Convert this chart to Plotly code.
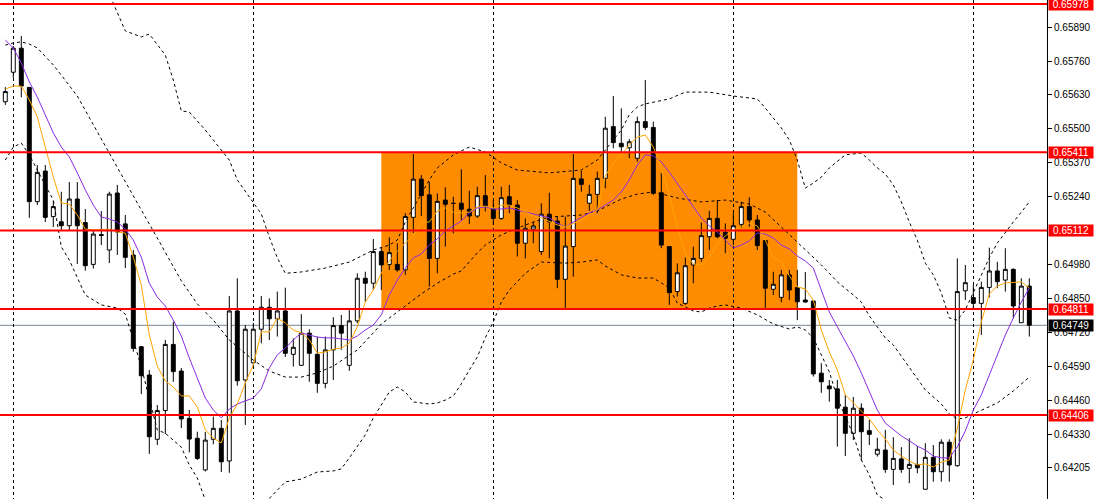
import plotly.graph_objects as go

# ---------------- candle data (price) ----------------
open_ = [0.65604, 0.65717, 0.65809, 0.65659, 0.65222, 0.65339, 0.65165, 0.65145, 0.65130, 0.65232,
         0.65142, 0.64982, 0.65096, 0.65037, 0.65255, 0.65137, 0.65018, 0.64667, 0.64559, 0.64313,
         0.64423, 0.64676, 0.64574, 0.64393, 0.64317, 0.64196, 0.64313, 0.64355, 0.64230, 0.64804,
         0.64540, 0.64606, 0.64734, 0.64818, 0.64774, 0.64804, 0.64638, 0.64596, 0.64719, 0.64638,
         0.64527, 0.64655, 0.64748, 0.64596, 0.64766, 0.64929, 0.64910, 0.65031, 0.64982, 0.64982,
         0.64961, 0.65162, 0.65308, 0.65248, 0.65005, 0.65228, 0.65216, 0.65216, 0.65193, 0.65167,
         0.65245, 0.65193, 0.65158, 0.65241, 0.65209, 0.65063, 0.65117, 0.65031, 0.65174, 0.65148,
         0.64925, 0.65050, 0.65309, 0.65216, 0.65250, 0.65311, 0.65509, 0.65445, 0.65428, 0.65388,
         0.65528, 0.65506, 0.65256, 0.65050, 0.64878, 0.64833, 0.64980, 0.65005, 0.65088, 0.65158,
         0.65105, 0.65078, 0.65135, 0.65203, 0.65152, 0.65073, 0.64887, 0.64856, 0.64942, 0.64893,
         0.64846, 0.64842, 0.64566, 0.64517, 0.64506, 0.64436, 0.64336, 0.64432, 0.64346, 0.64256,
         0.64272, 0.64198, 0.64238, 0.64202, 0.64217, 0.64122, 0.64244, 0.64189, 0.64302, 0.64212,
         0.64881, 0.64855, 0.64833, 0.64894, 0.64957, 0.64922, 0.64963, 0.64759, 0.64899]

high_ = [0.65660, 0.65817, 0.65856, 0.65660, 0.65362, 0.65362, 0.65225, 0.65260, 0.65297, 0.65297,
         0.65194, 0.65110, 0.65186, 0.65260, 0.65286, 0.65171, 0.65037, 0.64670, 0.64578, 0.64444,
         0.64693, 0.64763, 0.64586, 0.64425, 0.64342, 0.64341, 0.64400, 0.64387, 0.64861, 0.64929,
         0.64750, 0.64758, 0.64861, 0.64852, 0.64878, 0.64893, 0.64699, 0.64792, 0.64734, 0.64706,
         0.64706, 0.64780, 0.64789, 0.64814, 0.64948, 0.64954, 0.65079, 0.65049, 0.65086, 0.65063,
         0.65178, 0.65404, 0.65324, 0.65298, 0.65254, 0.65277, 0.65241, 0.65346, 0.65264, 0.65279,
         0.65324, 0.65228, 0.65279, 0.65286, 0.65228, 0.65158, 0.65145, 0.65216, 0.65256, 0.65165,
         0.65165, 0.65404, 0.65340, 0.65286, 0.65337, 0.65547, 0.65626, 0.65579, 0.65461, 0.65547,
         0.65687, 0.65528, 0.65331, 0.65050, 0.64986, 0.65008, 0.65050, 0.65142, 0.65187, 0.65228,
         0.65139, 0.65178, 0.65222, 0.65239, 0.65171, 0.65073, 0.64954, 0.64961, 0.64961, 0.64961,
         0.64953, 0.64842, 0.64604, 0.64540, 0.64540, 0.64483, 0.64475, 0.64451, 0.64387, 0.64319,
         0.64349, 0.64321, 0.64283, 0.64317, 0.64287, 0.64298, 0.64291, 0.64313, 0.64313, 0.65005,
         0.64980, 0.64903, 0.64916, 0.65046, 0.64992, 0.65044, 0.64967, 0.64929, 0.64929]

low_ = [0.65592, 0.65695, 0.65621, 0.65160, 0.65209, 0.65144, 0.65125, 0.65114, 0.65114, 0.64984,
        0.64958, 0.64966, 0.65056, 0.64987, 0.65018, 0.64968, 0.64648, 0.64486, 0.64257, 0.64291,
        0.64333, 0.64533, 0.64356, 0.64263, 0.64234, 0.64190, 0.64294, 0.64188, 0.64185, 0.64518,
        0.64368, 0.64586, 0.64680, 0.64693, 0.64706, 0.64628, 0.64591, 0.64594, 0.64533, 0.64491,
        0.64508, 0.64540, 0.64655, 0.64575, 0.64757, 0.64839, 0.64884, 0.64884, 0.64961, 0.64954,
        0.64942, 0.65102, 0.65167, 0.64897, 0.64948, 0.65050, 0.65101, 0.65152, 0.65137, 0.65160,
        0.65184, 0.65133, 0.65152, 0.65178, 0.65012, 0.65005, 0.65063, 0.65018, 0.65005, 0.64891,
        0.64808, 0.64935, 0.65260, 0.65187, 0.65178, 0.65273, 0.65426, 0.65413, 0.65388, 0.65375,
        0.65496, 0.65248, 0.65044, 0.64827, 0.64859, 0.64827, 0.64910, 0.64992, 0.65037, 0.65082,
        0.65025, 0.65056, 0.65121, 0.65126, 0.65037, 0.64814, 0.64865, 0.64837, 0.64846, 0.64769,
        0.64836, 0.64553, 0.64491, 0.64457, 0.64285, 0.64249, 0.64310, 0.64234, 0.64291, 0.64247,
        0.64185, 0.64138, 0.64185, 0.64145, 0.64183, 0.64120, 0.64151, 0.64151, 0.64151, 0.64208,
        0.64846, 0.64808, 0.64712, 0.64856, 0.64891, 0.64878, 0.64776, 0.64759, 0.64706]

close_ = [0.65643, 0.65809, 0.65664, 0.65222, 0.65334, 0.65162, 0.65203, 0.65130, 0.65232, 0.65130,
          0.64977, 0.65098, 0.65093, 0.65251, 0.65106, 0.65009, 0.64661, 0.64556, 0.64323, 0.64423,
          0.64676, 0.64572, 0.64391, 0.64314, 0.64240, 0.64310, 0.64355, 0.64227, 0.64804, 0.64537,
          0.64734, 0.64734, 0.64818, 0.64774, 0.64804, 0.64642, 0.64665, 0.64719, 0.64642, 0.64527,
          0.64655, 0.64748, 0.64719, 0.64766, 0.64929, 0.64910, 0.65031, 0.64980, 0.65027, 0.64961,
          0.65165, 0.65308, 0.65245, 0.65005, 0.65223, 0.65212, 0.65215, 0.65193, 0.65167, 0.65245,
          0.65203, 0.65158, 0.65237, 0.65209, 0.65063, 0.65120, 0.65129, 0.65174, 0.65145, 0.64925,
          0.65052, 0.65311, 0.65288, 0.65250, 0.65311, 0.65503, 0.65448, 0.65432, 0.65451, 0.65528,
          0.65506, 0.65254, 0.65056, 0.64874, 0.64950, 0.64977, 0.65005, 0.65092, 0.65158, 0.65088,
          0.65082, 0.65130, 0.65203, 0.65152, 0.65054, 0.64891, 0.64906, 0.64942, 0.64884, 0.64839,
          0.64838, 0.64563, 0.64533, 0.64506, 0.64432, 0.64336, 0.64432, 0.64342, 0.64332, 0.64275,
          0.64198, 0.64240, 0.64198, 0.64217, 0.64204, 0.64244, 0.64189, 0.64302, 0.64215, 0.64878,
          0.64912, 0.64833, 0.64894, 0.64957, 0.64916, 0.64963, 0.64823, 0.64899, 0.64749]

bars = list(range(len(close_)))

# ---------------- moving averages (read per bar) ----------------
ma_fast = [0.65653, 0.65664, 0.65664, 0.65611, 0.65546, 0.65431, 0.65316, 0.65217, 0.65213, 0.65171,
           0.65117, 0.65114, 0.65116, 0.65117, 0.65106, 0.65102, 0.65010, 0.64903, 0.64712, 0.64593,
           0.64536, 0.64513, 0.64479, 0.64479, 0.64437, 0.64349, 0.64318, 0.64299, 0.64395, 0.64448,
           0.64528, 0.64597, 0.64724, 0.64724, 0.64777, 0.64758, 0.64731, 0.64720, 0.64693, 0.64643,
           0.64647, 0.64658, 0.64662, 0.64681, 0.64743, 0.64838, 0.64884, 0.64949, 0.64995, 0.65033,
           0.65064, 0.65091, 0.65144, 0.65144, 0.65186, 0.65198, 0.65182, 0.65179, 0.65182, 0.65202,
           0.65205, 0.65198, 0.65209, 0.65209, 0.65198, 0.65182, 0.65167, 0.65160, 0.65148, 0.65133,
           0.65125, 0.65137, 0.65152, 0.65171, 0.65190, 0.65320, 0.65370, 0.65401, 0.65439, 0.65469,
           0.65477, 0.65431, 0.65351, 0.65248, 0.65125, 0.65022, 0.64984, 0.64980, 0.65007, 0.65060,
           0.65091, 0.65114, 0.65125, 0.65140, 0.65129, 0.65075, 0.65007, 0.64991, 0.64938, 0.64896,
           0.64888, 0.64846, 0.64731, 0.64647, 0.64578, 0.64483, 0.64452, 0.64425, 0.64391, 0.64349,
           0.64314, 0.64272, 0.64249, 0.64230, 0.64215, 0.64219, 0.64207, 0.64226, 0.64234, 0.64356,
           0.64502, 0.64616, 0.64762, 0.64869, 0.64899, 0.64911, 0.64913, 0.64915, 0.64892]

ma_slow = [0.65840, 0.65810, 0.65752, 0.65680, 0.65622, 0.65550, 0.65485, 0.65431, 0.65393, 0.65332,
           0.65267, 0.65209, 0.65163, 0.65156, 0.65144, 0.65117, 0.65075, 0.65010, 0.64910, 0.64857,
           0.64823, 0.64769, 0.64708, 0.64624, 0.64548, 0.64471, 0.64425, 0.64395, 0.64429, 0.64448,
           0.64460, 0.64471, 0.64506, 0.64586, 0.64636, 0.64662, 0.64693, 0.64720, 0.64712, 0.64704,
           0.64701, 0.64701, 0.64697, 0.64693, 0.64708, 0.64731, 0.64750, 0.64789, 0.64865, 0.64922,
           0.64968, 0.65007, 0.65022, 0.65056, 0.65079, 0.65110, 0.65129, 0.65148, 0.65179, 0.65198,
           0.65202, 0.65194, 0.65194, 0.65198, 0.65190, 0.65182, 0.65175, 0.65167, 0.65160, 0.65140,
           0.65125, 0.65144, 0.65160, 0.65179, 0.65190, 0.65209, 0.65228, 0.65259, 0.65305, 0.65362,
           0.65401, 0.65397, 0.65374, 0.65335, 0.65293, 0.65248, 0.65202, 0.65160, 0.65129, 0.65106,
           0.65075, 0.65045, 0.65056, 0.65072, 0.65102, 0.65098, 0.65083, 0.65056, 0.65041, 0.65014,
           0.64995, 0.64968, 0.64884, 0.64800, 0.64743, 0.64689, 0.64632, 0.64567, 0.64498, 0.64425,
           0.64375, 0.64349, 0.64326, 0.64307, 0.64287, 0.64272, 0.64249, 0.64242, 0.64242, 0.64284,
           0.64345, 0.64425, 0.64483, 0.64559, 0.64636, 0.64712, 0.64777, 0.64838, 0.64892]

# ---------------- Bollinger bands (sampled bars) ----------------
bb_up_bar = [0, 6, 10, 12, 13, 15, 17, 18, 20, 21, 22, 23, 25, 26, 28, 29, 31, 32, 33, 34, 35, 37, 40,
             43, 46, 48, 49, 50, 51, 53, 54, 56, 57, 58, 60, 62, 64, 68, 72, 74, 76, 77, 78, 79, 80,
             83, 85, 88, 91, 94, 95, 97, 98, 99, 100, 101, 102, 103, 105, 107, 108, 109, 110, 111,
             112, 113, 114, 115, 116, 117, 118, 119, 120, 121, 122, 123, 124, 125, 126, 127, 128]
bb_up = [0.66261, 0.66269, 0.66223, 0.66097, 0.66016, 0.65875, 0.65852, 0.65863, 0.65783, 0.65687,
         0.65569, 0.65565, 0.65496, 0.65458, 0.65381, 0.65305, 0.65217, 0.65175, 0.65087, 0.65007,
         0.64948, 0.64953, 0.64968, 0.64991, 0.65037, 0.65056, 0.65075, 0.65144, 0.65198, 0.65305,
         0.65351, 0.65401, 0.65416, 0.65431, 0.65412, 0.65370, 0.65343, 0.65332, 0.65343, 0.65381,
         0.65458, 0.65496, 0.65554, 0.65584, 0.65596, 0.65615, 0.65641, 0.65641, 0.65626, 0.65615,
         0.65580, 0.65504, 0.65458, 0.65381, 0.65274, 0.65293, 0.65316, 0.65351, 0.65401, 0.65408,
         0.65381, 0.65351, 0.65328, 0.65286, 0.65221, 0.65144, 0.65075, 0.64987, 0.64942, 0.64873,
         0.64777, 0.64769, 0.64808, 0.64873, 0.64942, 0.65007, 0.65064, 0.65106, 0.65144, 0.65182,
         0.65221]

bb_mid_bar = [0, 1, 2, 3, 4, 5, 6, 7, 9, 12, 14, 17, 19, 21, 22, 24, 26, 28, 31, 33, 35, 37, 39, 41,
              44, 46, 47, 49, 51, 52, 54, 56, 57, 59, 60, 62, 64, 66, 68, 72, 74, 77, 79, 81, 83, 84,
              87, 90, 93, 95, 97, 99, 100, 102, 103, 104, 106, 107, 108, 109, 110, 111, 113, 115,
              117, 118, 119, 120, 121, 124, 126, 128]
bb_mid = [0.65821, 0.65829, 0.65833, 0.65825, 0.65810, 0.65779, 0.65745, 0.65706, 0.65626, 0.65462,
          0.65351, 0.65190, 0.65083, 0.64972, 0.64919, 0.64831, 0.64769, 0.64693, 0.64616, 0.64574,
          0.64551, 0.64551, 0.64567, 0.64593, 0.64655, 0.64720, 0.64754, 0.64800, 0.64846, 0.64869,
          0.64910, 0.64945, 0.64957, 0.65026, 0.65056, 0.65095, 0.65121, 0.65144, 0.65163, 0.65171,
          0.65186, 0.65232, 0.65251, 0.65259, 0.65244, 0.65236, 0.65221, 0.65228, 0.65213, 0.65182,
          0.65125, 0.65068, 0.65037, 0.64980, 0.64948, 0.64915, 0.64865, 0.64838, 0.64785, 0.64743,
          0.64701, 0.64674, 0.64586, 0.64502, 0.64448, 0.64410, 0.64391, 0.64395, 0.64410, 0.64452,
          0.64498, 0.64551]

bb_low_bar = [0, 1, 2, 3, 4, 6, 7, 8, 10, 12, 14, 15, 16, 17, 19, 20, 22, 23, 24, 25, 27, 29, 31,
              33, 35, 37, 39, 41, 42, 43, 45, 46, 47, 48, 49, 50, 51, 53, 54, 55, 56, 57, 58, 59,
              60, 61, 62, 63, 65, 67, 70, 72, 74, 75, 77, 79, 81, 83, 84, 86, 87, 88, 89, 90, 92,
              94, 96, 98, 99, 100, 101, 103, 104, 106, 107, 108, 109, 111, 114, 117, 120, 124, 128]
bb_low = [0.65381, 0.65431, 0.65446, 0.65401, 0.65343, 0.65228, 0.65049, 0.64999, 0.64865, 0.64827,
          0.64815, 0.64792, 0.64693, 0.64590, 0.64349, 0.64336, 0.64283, 0.64215, 0.64165, 0.64081,
          0.64035, 0.64004, 0.64024, 0.64089, 0.64150, 0.64161, 0.64188, 0.64192, 0.64200, 0.64242,
          0.64330, 0.64395, 0.64444, 0.64494, 0.64513, 0.64494, 0.64456, 0.64448, 0.64452, 0.64463,
          0.64479, 0.64525, 0.64578, 0.64628, 0.64701, 0.64762, 0.64838, 0.64884, 0.64948, 0.64991,
          0.64987, 0.64991, 0.64999, 0.64976, 0.64942, 0.64930, 0.64930, 0.64892, 0.64834, 0.64804,
          0.64800, 0.64815, 0.64823, 0.64827, 0.64815, 0.64789, 0.64754, 0.64735, 0.64743, 0.64731,
          0.64701, 0.64571, 0.64471, 0.64330, 0.64234, 0.64177, 0.64100, 0.64062, 0.64024, 0.63993,
          0.63947, 0.63851, 0.63882]

# ---------------- levels / zone / axis ----------------
red_levels = [0.65978, 0.65411, 0.65112, 0.64811, 0.64406]
current_price = 0.64749
zone_bars = [47, 99]
zone_prices = [0.64811, 0.65411]
grid_bars = [1, 31, 61, 91, 121]
tick_vals = [0.65890, 0.65760, 0.65630, 0.65500, 0.65370, 0.65240, 0.64980, 0.64850,
             0.64720, 0.64590, 0.64460, 0.64330, 0.64205]
tick_text = ["%.5f" % v for v in tick_vals]

fig = go.Figure()

fig.add_trace(go.Candlestick(
    x=bars, open=open_, high=high_, low=low_, close=close_,
    increasing=dict(line=dict(color="black", width=1), fillcolor="white"),
    decreasing=dict(line=dict(color="black", width=1), fillcolor="black"),
    whiskerwidth=0, showlegend=False, hoverinfo="skip"))

band_style = dict(color="black", width=1, dash="3px,3px")
for bx, by in [(bb_up_bar, bb_up), (bb_mid_bar, bb_mid), (bb_low_bar, bb_low)]:
    fig.add_trace(go.Scatter(x=bx, y=by, mode="lines", line=band_style,
                             showlegend=False, hoverinfo="skip"))

fig.add_trace(go.Scatter(x=bars, y=ma_slow, mode="lines",
                         line=dict(color="#8A2BE2", width=1), showlegend=False, hoverinfo="skip"))
fig.add_trace(go.Scatter(x=bars, y=ma_fast, mode="lines",
                         line=dict(color="#FFA500", width=1), showlegend=False, hoverinfo="skip"))

shapes = [dict(type="rect", xref="x", yref="y", x0=zone_bars[0], x1=zone_bars[1],
               y0=zone_prices[0], y1=zone_prices[1], fillcolor="#FF8C00",
               line=dict(width=0), layer="below"),
          dict(type="line", xref="paper", yref="y", x0=0, x1=1, y0=current_price,
               y1=current_price, line=dict(color="#778899", width=1), layer="below")]
for lv in red_levels:
    shapes.append(dict(type="line", xref="paper", yref="y", x0=0, x1=1, y0=lv, y1=lv,
                       line=dict(color="#FF0000", width=2), layer="above"))

annotations = []
for lv in red_levels:
    annotations.append(dict(x=1, xref="paper", xanchor="left", xshift=1, y=lv, yref="y",
                            text="%.5f" % lv, showarrow=False, bgcolor="#FF0000",
                            font=dict(color="white", size=10, family="Liberation Sans"),
                            width=44, height=11, borderpad=0))
annotations.append(dict(x=1, xref="paper", xanchor="left", xshift=1, y=current_price, yref="y",
                        text="%.5f" % current_price, showarrow=False, bgcolor="black",
                        font=dict(color="white", size=10, family="Liberation Sans"),
                        width=44, height=11, borderpad=0))

fig.update_layout(
    width=1095, height=499,
    margin=dict(l=0, r=48, t=0, b=0),
    paper_bgcolor="white", plot_bgcolor="white",
    showlegend=False,
    shapes=shapes, annotations=annotations,
    xaxis=dict(range=[-0.6625, 130.21], rangeslider=dict(visible=False),
               tickvals=grid_bars, showticklabels=False, ticks="",
               showgrid=True, gridcolor="black", gridwidth=1, griddash="3px,3px",
               zeroline=False, showline=False, fixedrange=True),
    yaxis=dict(range=[0.640847, 0.659933], side="right", tickvals=tick_vals, ticktext=tick_text,
               showgrid=False, showline=True, linecolor="black", linewidth=1,
               ticks="outside", ticklen=4, tickcolor="black",
               tickfont=dict(family="Liberation Sans", size=10, color="black"),
               zeroline=False, fixedrange=True),
)

fig.write_html("out.html", config={"displayModeBar": False},
               post_script="document.body.style.margin='0px';document.body.style.overflow='hidden';")
